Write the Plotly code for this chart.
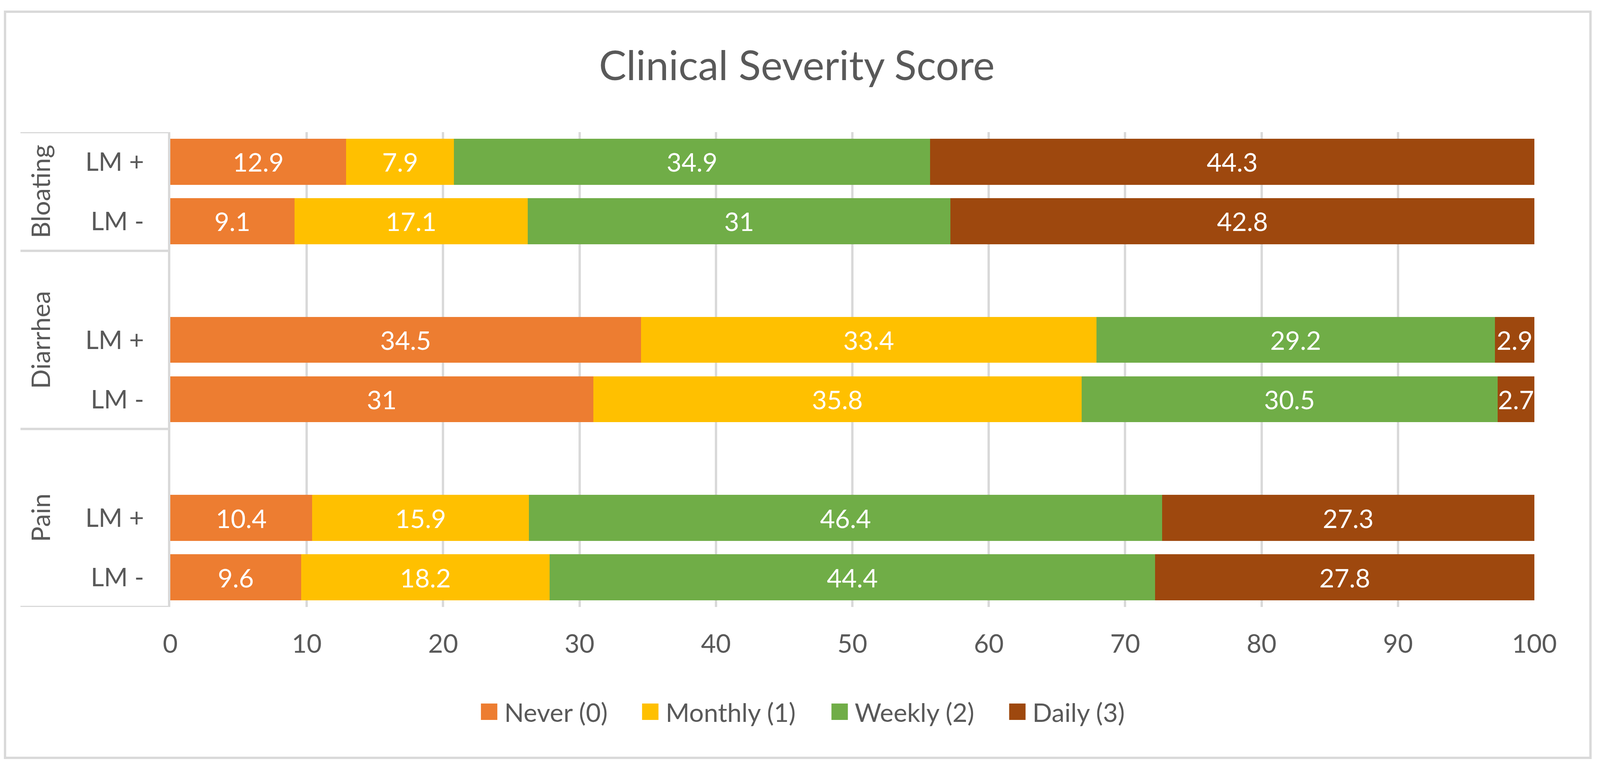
import plotly.graph_objects as go

# ---------------- data ----------------
series_names = ["Never (0)", "Monthly (1)", "Weekly (2)", "Daily (3)"]
series_colors = ["#ED7D31", "#FFC000", "#70AD47", "#9E480E"]

symptoms = ["Pain", "Diarrhea", "Bloating"]          # bottom -> top
row_symptom = ["Pain", "Pain", "Diarrhea", "Diarrhea", "Bloating", "Bloating"]
row_lm = ["LM -", "LM +", "LM -", "LM +", "LM -", "LM +"]

never = [9.6, 10.4, 31, 34.5, 9.1, 12.9]
monthly = [18.2, 15.9, 35.8, 33.4, 17.1, 7.9]
weekly = [44.4, 46.4, 30.5, 29.2, 31, 34.9]
daily = [27.8, 27.3, 2.7, 2.9, 42.8, 44.3]

x_ticks = [0, 10, 20, 30, 40, 50, 60, 70, 80, 90, 100]
title_text = "Clinical Severity Score"

# ---------------- layout constants ----------------
# The browser viewport is 4096 px wide, so the reference's horizontal
# geometry (4249 px) is scaled to fit.
REF_W = 4249
W, H = 4096, 1965
SX = W / REF_W


def sx(px):
    return px * SX


ML, MR = sx(452), sx(REF_W - 4075)
MT, MB = 338, H - 1553
PW, PH = W - ML - MR, H - MT - MB
TXT = "#595959"
GRID = "#D9D9D9"
FONT = "Lato"
FS = 66


def px_x(px_ref):
    return (sx(px_ref) - ML) / PW


def px_y(py):
    return (H - MB - py) / PH


row_keys = [f"{s}|{l}" for s, l in zip(row_symptom, row_lm)]
cat_array, cat_text, group_slots = [], [], {}
for gi, s in enumerate(symptoms):
    for k, l in zip(row_keys, row_lm):
        if k.startswith(s + "|"):
            group_slots.setdefault(s, []).append(len(cat_array))
            cat_array.append(k)
            cat_text.append(l)
    if gi < len(symptoms) - 1:
        group_slots[s].append(len(cat_array))
        cat_array.append(f"{s}|gap")
        cat_text.append("")

fig = go.Figure()
for name, color, vals in zip(series_names, series_colors, [never, monthly, weekly, daily]):
    fig.add_trace(go.Bar(
        y=row_keys, x=vals, name=name, orientation="h",
        marker=dict(color=color, line=dict(width=0)),
        text=[f"{v:g}" for v in vals],
        textposition="inside", insidetextanchor="middle", textangle=0,
        textfont=dict(family=FONT, size=FS, color="white"),
        hoverinfo="skip", showlegend=False,
    ))

shapes = []
annotations = []

# outer chart border
shapes.append(dict(type="rect", xref="paper", yref="paper",
                   x0=px_x(13), x1=px_x(4224), y0=px_y(1939), y1=px_y(30),
                   line=dict(color=GRID, width=6), layer="below"))

# multi-level category bracket lines
bounds = [-0.5] + [max(group_slots[s]) + 0.5 for s in symptoms]
for b in bounds:
    shapes.append(dict(type="line", xref="paper", yref="y",
                       x0=px_x(54), x1=0, y0=b, y1=b,
                       line=dict(color=GRID, width=6)))

# group labels (rotated)
for s in symptoms:
    slots = group_slots[s]
    annotations.append(dict(xref="paper", yref="y", x=px_x(106),
                            y=sum(slots) / len(slots), text=s, textangle=-90,
                            showarrow=False, xanchor="center", yanchor="middle",
                            font=dict(family=FONT, size=FS, color=TXT)))

# legend (drawn manually so the swatches can be as large as in the reference)
sq_left = [1277, 1705, 2208, 2680]
leg_y = 1821
for name, color, x0 in zip(series_names, series_colors, sq_left):
    shapes.append(dict(type="rect", xref="paper", yref="paper",
                       x0=px_x(x0), x1=px_x(x0) + 42 / PW,
                       y0=px_y(leg_y + 21), y1=px_y(leg_y - 21),
                       fillcolor=color, line=dict(width=0)))
    annotations.append(dict(xref="paper", yref="paper", x=px_x(x0) + 58 / PW,
                            y=px_y(leg_y), text=name, showarrow=False,
                            xanchor="left", yanchor="middle",
                            font=dict(family=FONT, size=FS, color=TXT)))

fig.update_layout(
    width=W, height=H,
    margin=dict(l=ML, r=MR, t=MT, b=MB, autoexpand=False),
    paper_bgcolor="white", plot_bgcolor="white",
    barmode="stack", bargap=0.224,
    showlegend=False,
    title=dict(text=title_text, x=2116 / REF_W, xref="container", xanchor="center",
               y=1 - 168 / H, yref="container", yanchor="middle",
               font=dict(family=FONT, size=105, color=TXT)),
    xaxis=dict(range=[0, 100], tickvals=x_ticks, showgrid=True, gridcolor=GRID,
               gridwidth=6, zeroline=False, showline=False, ticks="",
               ticklabelstandoff=50,
               tickfont=dict(family=FONT, size=FS, color=TXT), fixedrange=True),
    yaxis=dict(type="category", categoryorder="array", categoryarray=cat_array,
               tickvals=cat_array, ticktext=cat_text, range=[-0.5, len(cat_array) - 0.5],
               showgrid=False, zeroline=False, showline=True, linecolor=GRID,
               linewidth=6, ticks="", ticklabelstandoff=48,
               tickfont=dict(family=FONT, size=FS, color=TXT), fixedrange=True),
    uniformtext=dict(minsize=FS, mode="show"),
    shapes=shapes, annotations=annotations,
    font=dict(family=FONT, color=TXT),
)

post = "document.body.style.margin='0';document.body.style.overflow='hidden';"
fig.write_html("out.html", post_script=post, config={"displayModeBar": False})
